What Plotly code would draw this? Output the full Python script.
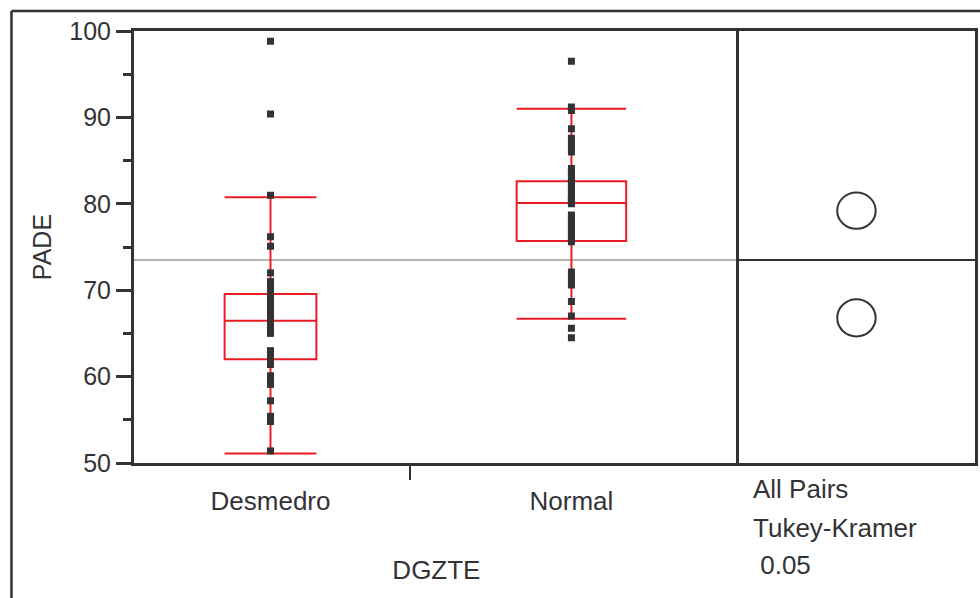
import plotly.graph_objects as go

# Groups of the DGZTE factor and their positions on the x axis
groups = ["Desmedro", "Normal"]
group_pos = [0, 1]

# PADE observations per group
pade_desmedro = [98.8, 90.4, 81.0, 76.2, 75.1, 72.0, 71.0, 70.6, 70.2, 69.8,
                 69.4, 69.0, 68.6, 68.2, 67.8, 67.4, 67.0, 66.6, 66.2, 65.8,
                 65.4, 65.0, 63.0, 62.5, 62.0, 61.4, 60.1, 59.6, 59.1, 57.2,
                 55.4, 54.8, 51.4]
pade_normal = [96.5, 91.2, 90.8, 88.7, 87.6, 87.1, 86.5, 86.0, 84.1, 83.7,
               83.3, 82.9, 82.5, 82.1, 81.7, 81.3, 80.9, 80.6, 80.4, 80.2,
               80.0, 78.7, 78.3, 77.9, 77.5, 77.1, 76.7, 76.3, 75.9, 75.6,
               72.1, 71.6, 71.1, 70.6, 68.7, 67.0, 65.6, 64.5]

# Quantile box summaries
q1 = [62.0, 75.7]
medians = [66.45, 80.1]
q3 = [69.55, 82.6]
lower_whisker = [51.1, 66.7]
upper_whisker = [80.75, 91.0]
box_widths = [0.305, 0.364]

# Grand mean and comparison circles (Tukey-Kramer, all pairs)
grand_mean = 73.5
group_means = [66.8, 79.2]
circle_radius = [2.15, 2.1]
test_labels = ["All Pairs", "Tukey-Kramer", " 0.05"]

y_ticks = [50, 60, 70, 80, 90, 100]
group_boundary = [0.4636]

INK = "#333336"
RED = "#ec1c24"
FONT = "Liberation Sans, Arial, sans-serif"

fig = go.Figure()

# Quantile boxes with capped whiskers
for i, g in enumerate(groups):
    fig.add_trace(go.Box(
        x=[group_pos[i]], q1=[q1[i]], median=[medians[i]], q3=[q3[i]],
        lowerfence=[lower_whisker[i]], upperfence=[upper_whisker[i]],
        width=box_widths[i], whiskerwidth=1,
        line=dict(color=RED, width=2), fillcolor="rgba(0,0,0,0)",
        boxpoints=False, name=g, showlegend=False, hoverinfo="skip",
    ))

# Raw observations
for i, vals in enumerate([pade_desmedro, pade_normal]):
    fig.add_trace(go.Scatter(
        x=[group_pos[i]] * len(vals), y=vals, mode="markers",
        marker=dict(symbol="square", size=7, color=INK),
        showlegend=False, name=groups[i],
    ))

# Invisible trace to attach the comparison-circle panel axes
fig.add_trace(go.Scatter(x=[0.5], y=[grand_mean], mode="markers",
                         marker=dict(opacity=0), xaxis="x2", yaxis="y2",
                         showlegend=False, hoverinfo="skip"))

shapes = []
# Grand mean line across the main plot and the circle panel
shapes.append(dict(type="line", xref="x domain", yref="y", x0=0, x1=1,
                   y0=grand_mean, y1=grand_mean, layer="below",
                   line=dict(color="#bcb3b0", width=2)))
shapes.append(dict(type="line", xref="x2 domain", yref="y2", x0=0, x1=1,
                   y0=grand_mean, y1=grand_mean,
                   line=dict(color=INK, width=2)))
# Comparison circles centered on group means
cx, hx = 0.498, 0.0814
for m, r in zip(group_means, circle_radius):
    shapes.append(dict(type="circle", xref="x2", yref="y2",
                       x0=cx - hx, x1=cx + hx, y0=m - r, y1=m + r,
                       line=dict(color=INK, width=2)))
# Outer report frame
fx, fy = -0.1457, 1.0463
shapes.append(dict(type="line", xref="paper", yref="paper", x0=fx, x1=1.01,
                   y0=fy, y1=fy, line=dict(color=INK, width=2.5)))
shapes.append(dict(type="line", xref="paper", yref="paper", x0=fx, x1=fx,
                   y0=fy, y1=-0.35, line=dict(color=INK, width=2.5)))

annotations = []
for txt, ypx in zip(test_labels, [489, 528, 565]):
    annotations.append(dict(
        text=txt, xref="paper", yref="paper", x=(753 - 134) / 844,
        y=(463 - ypx) / 432, xanchor="left", yanchor="middle",
        showarrow=False, font=dict(family=FONT, size=26, color=INK)))

split = (741 - 134) / 844
x_range = [-0.4536, -0.4536 + (741 - 134) / 302]

fig.update_layout(
    width=980, height=598,
    margin=dict(l=134, r=2, t=31, b=135),
    paper_bgcolor="white", plot_bgcolor="white",
    font=dict(family=FONT, size=25, color=INK),
    shapes=shapes, annotations=annotations,
    xaxis=dict(
        domain=[0, split], range=x_range,
        tickvals=group_pos, ticktext=groups, ticks="",
        ticklabelstandoff=13,
        minor=dict(tickmode="array", tickvals=group_boundary, ticks="outside",
                   ticklen=14, tickwidth=2, tickcolor=INK),
        showline=True, mirror=True, linecolor=INK, linewidth=3,
        showgrid=False, zeroline=False,
        title=dict(text="DGZTE", standoff=46, font=dict(size=26)),
        tickfont=dict(size=26, color=INK),
    ),
    yaxis=dict(
        range=[50, 100], tickvals=y_ticks, ticks="outside", ticklen=15,
        tickwidth=2.5, tickcolor=INK,
        minor=dict(dtick=5, tick0=55, ticks="outside", ticklen=8,
                   tickwidth=2.5, tickcolor=INK),
        showline=True, mirror=False, linecolor=INK, linewidth=3,
        showgrid=False, zeroline=False,
        title=dict(text="PADE", standoff=11, font=dict(size=25)),
        tickfont=dict(size=25, color=INK),
    ),
    xaxis2=dict(
        domain=[split, 1], range=[0, 1], anchor="y2",
        showticklabels=False, ticks="", showgrid=False, zeroline=False,
        showline=True, mirror=True, linecolor=INK, linewidth=3,
    ),
    yaxis2=dict(
        range=[50, 100], anchor="x2", matches="y",
        showticklabels=False, ticks="", showgrid=False, zeroline=False,
        showline=True, mirror=True, linecolor=INK, linewidth=3,
    ),
)

fig.write_html("out.html")
